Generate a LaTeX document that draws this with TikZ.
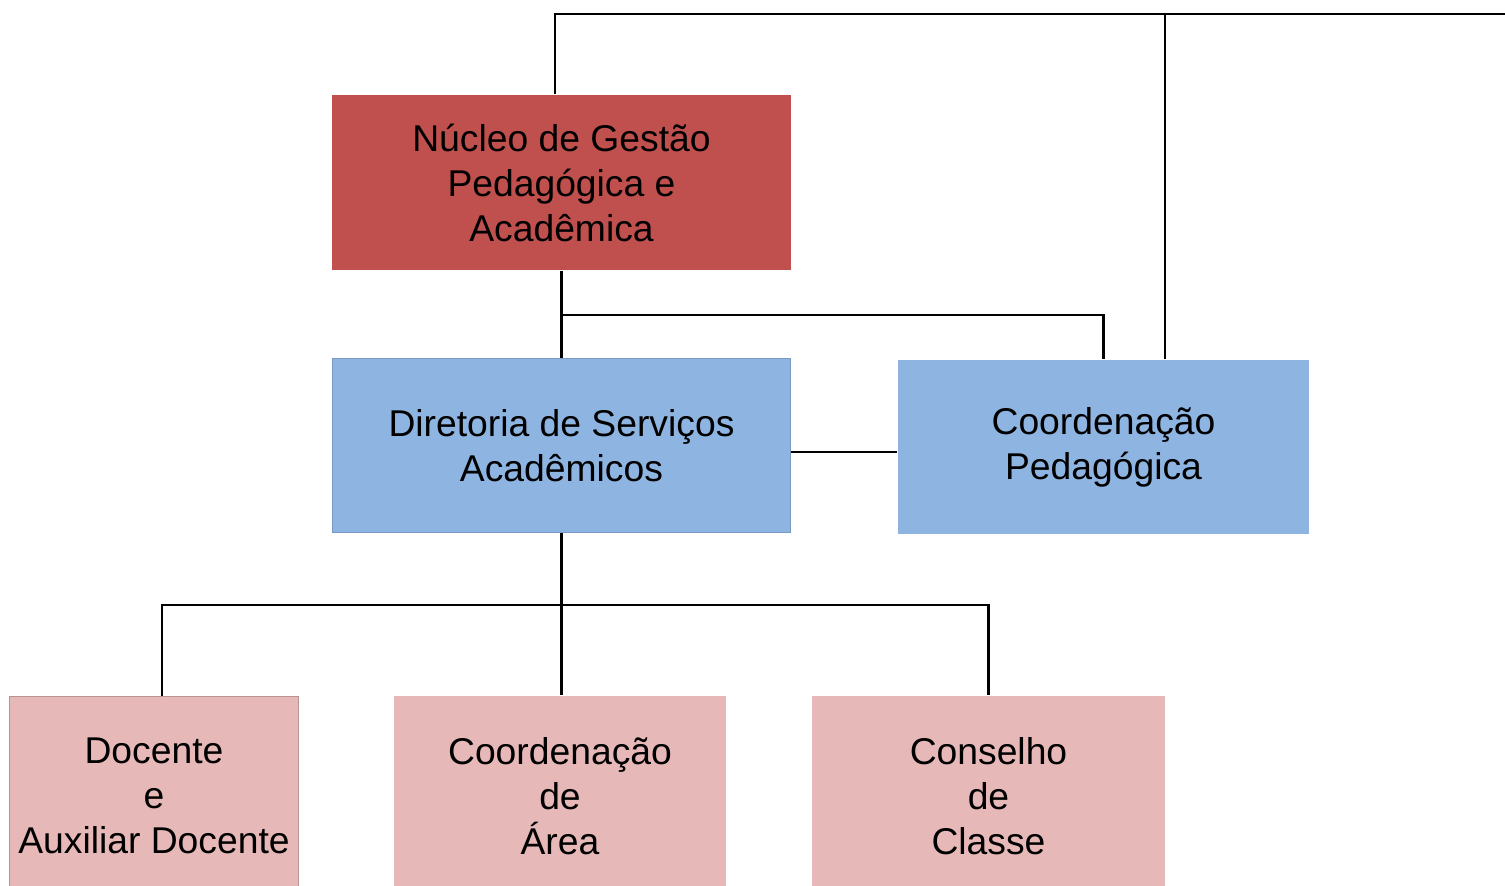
\documentclass[tikz,border=0pt]{standalone}
\usepackage{fontspec}
\setmainfont{Liberation Sans}
\definecolor{nucleored}{HTML}{C0504D}
\definecolor{dirblue}{HTML}{8EB4E2}
\definecolor{basepink}{HTML}{E6B8B7}
\tikzset{
  orgbox/.style={inner sep=0pt, align=center, font=\fontsize{10.6}{12.8}\selectfont},
  link/.style={line width=0.6pt}
}
\begin{document}
\begin{tikzpicture}[x=0.01cm,y=-0.01cm]
\clip (0,0) rectangle (1505,886);
\useasboundingbox (0,0) rectangle (1505,886);

\node[orgbox, fill=nucleored, minimum width=4.59cm, minimum height=1.75cm] (nucleo) at (561.5,182.5) {N\'ucleo de Gest\~ao\\Pedag\'ogica e\\Acad\^emica};
\node[orgbox, fill=dirblue, draw=dirblue!85!black, line width=0.3pt, minimum width=4.57cm, minimum height=1.73cm] (diretoria) at (561.5,445.5) {Diretoria de Servi\c{c}os\\Acad\^emicos};
\node[orgbox, fill=dirblue, minimum width=4.11cm, minimum height=1.74cm] (coordped) at (1103.5,447) {Coordena\c{c}\~ao\\Pedag\'ogica};

\node[orgbox, fill=basepink, draw=basepink!80!black, line width=0.3pt, minimum width=2.88cm, minimum height=1.98cm] (docente) at (154,796) {Docente\\e\\Auxiliar Docente};
\node[orgbox, fill=basepink, minimum width=3.32cm, minimum height=2cm] (coordarea) at (560,796) {Coordena\c{c}\~ao\\de\\\'Area};
\node[orgbox, fill=basepink, minimum width=3.53cm, minimum height=2cm] (conselho) at (988.5,796) {Conselho\\de\\Classe};

\coordinate (topR) at (1505,14);
\coordinate (jPed) at (561.5,315);
\coordinate (jBot) at (561.5,605);

\draw[link] (topR) -| ([xshift=-0.065cm]nucleo.north);
\draw[link] ([xshift=0.615cm]coordped.north) -- ([xshift=0.615cm]coordped.north |- topR);
\draw[link] (nucleo.south) -- (diretoria.north);
\draw[link] (jPed) -| (coordped.north);
\draw[link] ([yshift=-0.065cm]diretoria.east) -- ([yshift=-0.065cm]diretoria.east -| coordped.west);
\draw[link] (diretoria.south) -- (coordarea.north -| diretoria.south);
\draw[link] ([xshift=0.08cm]docente.north) |- (jBot) -| (conselho.north);

\end{tikzpicture}
\end{document}
